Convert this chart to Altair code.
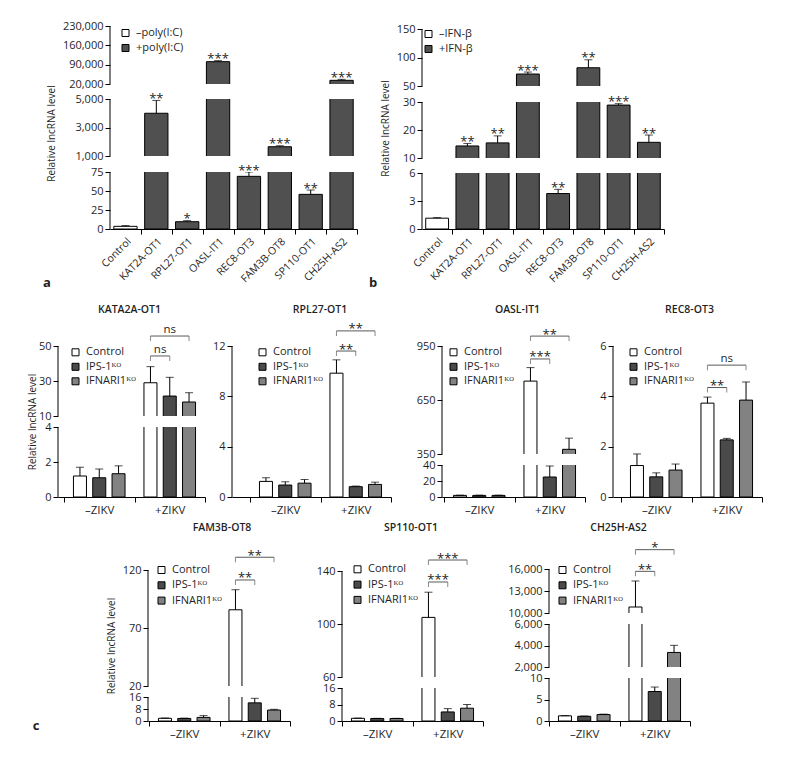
import altair as alt
import pandas as pd

FONT = "Open Sans"
INK = "#1f1f1f"
WHITE = "#ffffff"
DARK_AB = "#505050"
DARK_C = "#4a4a4a"
MID_C = "#828282"
BRACKET = "#595959"

# ---------------- panel a : poly(I:C) ----------------
A_CATEGORIES = ["Control", "KAT2A-OT1", "RPL27-OT1", "OASL-IT1", "REC8-OT3",
                "FAM3B-OT8", "SP110-OT1", "CH25H-AS2"]
A_TREATMENTS = ["–poly(I:C)", "+poly(I:C)"]
A_VALUES = [3.5, 4000, 9.6, 100800, 69.3, 1650, 45.6, 33300]
A_ERRORS = [1.0, 900, 1.4, 3700, 5.7, 70, 5.7, 3600]
A_STARS = ["", "**", "*", "***", "***", "***", "**", "***"]
A_DOMAINS = [[20000, 230000], [1000, 5000], [0, 75]]
A_TICKS = [[20000, 90000, 160000, 230000], [1000, 3000, 5000], [0, 25, 50, 75]]

# ---------------- panel b : IFN-beta ----------------
B_TREATMENTS = ["–IFN-β", "+IFN-β"]
B_VALUES = [1.16, 14.3, 15.4, 71, 3.8, 82, 28.9, 15.6]
B_ERRORS = [0.06, 0.9, 2.5, 3.5, 0.45, 14, 0.5, 2.6]
B_STARS = ["", "**", "**", "***", "**", "**", "***", "**"]
B_DOMAINS = [[50, 150], [10, 30], [0, 6]]
B_TICKS = [[50, 100, 150], [10, 20, 30], [0, 3, 6]]

# ---------------- panel c : ZIKV ----------------
C_GENES = ["KATA2A-OT1", "RPL27-OT1", "OASL-IT1", "REC8-OT3",
           "FAM3B-OT8", "SP110-OT1", "CH25H-AS2"]
C_GROUPS = ["–ZIKV", "+ZIKV"]
C_SERIES = ["Control", "IPS-1ᴷᴼ", "IFNARI1ᴷᴼ"]
# per gene: -ZIKV (Control, IPS-1KO, IFNARI1KO), +ZIKV (Control, IPS-1KO, IFNARI1KO)
C_VALUES = [
    [1.2, 1.1, 1.33, 29, 21.4, 18],
    [1.24, 0.95, 1.1, 9.84, 0.82, 1.0],
    [2, 2, 2, 755, 25, 376],
    [1.25, 0.8, 1.07, 3.73, 2.27, 3.85],
    [1.8, 1.7, 2.4, 85.7, 12.1, 7.3],
    [1.3, 1.2, 1.2, 105, 4.4, 6.2],
    [1.2, 1.1, 1.5, 10818, 6.85, 3354],
]
C_ERRORS = [
    [0.5, 0.5, 0.45, 9.2, 10.7, 5.3],
    [0.29, 0.26, 0.29, 1.06, 0.05, 0.18],
    [0.3, 0.3, 0.3, 75, 13.75, 62],
    [0.46, 0.16, 0.24, 0.24, 0.06, 0.72],
    [0.2, 0.2, 1.2, 17.3, 3.0, 0.5],
    [0.1, 0.1, 0.1, 19, 1.6, 1.8],
    [0.05, 0.05, 0.1, 3546, 1.05, 662],
]
C_BRACKET_HEIGHTS = [[44.3, 55.7], [11.6, 13.2], [878, 1005], [4.35, 5.24],
                     [111.4, 131], [131.7, 148.3], [15682, 18636]]
C_BRACKET_LABELS = [["ns", "ns"], ["**", "**"], ["***", "**"], ["**", "ns"],
                    ["**", "**"], ["***", "***"], ["**", "*"]]
C_DOMAINS = [
    [[10, 50], [0, 4]],
    [[0, 12]],
    [[350, 950], [0, 40]],
    [[0, 6]],
    [[20, 120], [0, 16]],
    [[60, 140], [0, 16]],
    [[10000, 16000], [2000, 6000], [0, 10]],
]
C_TICKS = [
    [[10, 30, 50], [0, 2, 4]],
    [[0, 4, 8, 12]],
    [[350, 650, 950], [0, 20, 40]],
    [[0, 2, 4, 6]],
    [[20, 70, 120], [0, 8, 16]],
    [[60, 100, 140], [0, 8, 16]],
    [[10000, 13000, 16000], [2000, 4000, 6000], [0, 5, 10]],
]
Y_TITLE = "Relative lncRNA level"

# ---------------- layout (page pixels) ----------------
PAGE_W, PAGE_H, MARGIN = 788, 762, 8
W, H = PAGE_W - 2 * MARGIN, PAGE_H - 2 * MARGIN
AB_X = [(110, 357), (422, 664)]
AB_SEG_PX = [[(26, 84), (99, 156), (172, 229)], [(29, 86), (102, 158), (173, 229)]]
AB_LEGEND = [(120, 33), (423, 34)]
AB_YTITLE = [(-53.5, 133), (-32, 128)]
AB_LABEL = [(47, 283), (373, 283)]
C_X = [(58, 205), (232, 391), (442, 585), (613, 762), (148, 290), (342, 483), (549, 690)]
C_SEG_PX = [[(346, 416), (427, 497)], [(346, 497)], [(346, 454), (465, 497)], [(346, 497)],
            [(570, 686), (697, 721)], [(571, 677), (688, 721)],
            [(569, 613), (624, 667), (678, 721)]]
C_STEP = 70.5
C_TITLE = [(129.5, 310), (320, 310), (517.5, 310), (689.5, 310), (222, 528), (411, 528), (618.5, 528)]
C_LEGEND = [(70, 352.3), (257, 352.3), (448, 352.3), (628, 352.3), (156, 570), (352, 569.3), (557, 570)]
C_LEGEND_PAD = [2.5, 2.5, 2.5, 2.5, 3.3, 3.3, 3.3]
C_YTITLE = [(-20.5, 421.5), None, None, None, (-32, 645.5), None, None]
C_LABEL = (36, 726)
OFF_PI, OFF_PO = 0.326, 0.49
HALF_OFF_STEP = (C_STEP / (3 - OFF_PI + 2 * OFF_PO)) / 2


def u(v):
    return v - MARGIN


def broken_scale(domains, seg_px):
    """Piecewise-linear y scale; segments listed top -> bottom with (top_px, bottom_px)."""
    dom, rng = [], []
    for (lo, hi), (top, bot) in zip(reversed(domains), reversed(seg_px)):
        dom += [lo, hi]
        rng += [u(bot), u(top)]
    segs = list(reversed(domains))
    seg_df = pd.DataFrame({"lo": [s[0] for s in segs], "hi": [s[1] for s in segs]})
    gap_df = pd.DataFrame({"lo": [segs[i][1] for i in range(len(segs) - 1)],
                           "hi": [segs[i + 1][0] for i in range(len(segs) - 1)]})
    return alt.Scale(domain=dom, range=rng, nice=False, zero=False), seg_df, gap_df


def y_axis(ticks, x0, title_xy=None):
    vals = sorted({t for tt in ticks for t in tt})
    kw = dict(values=vals, format=",d", tickSize=5, labelPadding=2, labelFontSize=11,
              grid=False, labelOverlap=False, labelFlush=False, domain=False, zindex=1,
              tickColor="black", orient="left", offset=-u(x0))
    if title_xy:
        kw.update(title=Y_TITLE, titleX=title_xy[0], titleY=u(title_xy[1]), titleAngle=270,
                  titleBaseline="bottom", titleFontSize=10, titleFontWeight="normal",
                  titleAlign="center")
    else:
        kw["title"] = None
    return alt.Axis(**kw)


def make_legend(sx, cy, rowpad):
    return alt.Legend(orient="none", legendX=u(sx), legendY=u(cy) - 5.5, title=None,
                      symbolType="square", symbolSize=49, symbolStrokeColor="black",
                      symbolStrokeWidth=1, labelFontSize=11, labelFont=FONT, labelColor=INK,
                      rowPadding=rowpad, labelOffset=5, padding=0, offset=0)


def text_layer(text, cx, cy, size=13, weight="bold"):
    return alt.Chart(pd.DataFrame({"t": [text]})).mark_text(
        fontSize=size, fontWeight=weight, align="center", baseline="middle", color=INK
    ).encode(x=alt.value(u(cx)), y=alt.value(u(cy)), text="t:N")


def core_layers(df, xenc, off, yscale, yaxis, fill, seg_df, gap_df, x0, x1):
    def Y(field):
        return alt.Y(field, type="quantitative", scale=yscale, axis=yaxis)
    base = alt.Chart(df)
    bars = base.mark_bar(stroke="black", strokeWidth=1).encode(
        x=xenc, y=Y("value"), y2="base:Q", fill=fill, **off)
    errs = base.mark_rule(color="black", strokeWidth=1).encode(
        x=xenc, y=Y("value"), y2="hi:Q", **off)
    caps = base.mark_tick(orient="horizontal", size=8, thickness=1, color="black").encode(
        x=xenc, y=Y("hi"), **off)
    layers = [bars, errs, caps]
    if len(gap_df):
        layers.append(alt.Chart(gap_df).mark_rect(fill=WHITE).encode(
            x=alt.value(u(x0) - 2), x2=alt.value(u(x1) + 2), y=Y("lo"), y2="hi:Q"))
    layers.append(alt.Chart(seg_df).mark_rule(color="black", strokeWidth=1).encode(
        x=alt.value(u(x0)), y=Y("lo"), y2="hi:Q"))
    return layers


def ab_panel(p, values, errors, stars, treatments, domains, ticks):
    rows = []
    for i, (c, v, e, s) in enumerate(zip(A_CATEGORIES, values, errors, stars)):
        rows.append(dict(cat=c, series=treatments[0] if i == 0 else treatments[1],
                         value=v, base=0, hi=v + e, stars=s))
    df = pd.DataFrame(rows)
    x0, x1 = AB_X[p]
    seg_px = AB_SEG_PX[p]
    yscale, seg_df, gap_df = broken_scale(domains, seg_px)
    shift = (x1 - x0) / len(A_CATEGORIES) * 0.245 / 2
    xaxis = alt.Axis(title=None, labelAngle=315, labelAlign="right", labelBaseline="top",
                     labelFontSize=10.5, bandPosition=1, tickOffset=shift,
                     labelOffset=-shift, tickSize=5, labelPadding=2, zindex=1,
                     domainColor="black", tickColor="black", orient="bottom",
                     offset=-(H - u(seg_px[-1][1])))
    xenc = alt.X("cat:N", scale=alt.Scale(domain=A_CATEGORIES, paddingInner=0.245,
                                          paddingOuter=0.1225, range=[u(x0), u(x1)]),
                 axis=xaxis, title=None)
    yaxis = y_axis(ticks, x0, AB_YTITLE[p])
    fill = alt.Fill("series:N", scale=alt.Scale(domain=treatments, range=[WHITE, DARK_AB]),
                    legend=make_legend(AB_LEGEND[p][0], AB_LEGEND[p][1], 3))
    layers = core_layers(df, xenc, {}, yscale, yaxis, fill, seg_df, gap_df, x0, x1)
    layers.append(
        alt.Chart(df).transform_filter("datum.stars != ''")
        .mark_text(fontSize=13, baseline="alphabetic", dy=2.5, color=INK)
        .encode(x=xenc, y=alt.Y("hi", type="quantitative", scale=yscale, axis=yaxis),
                text="stars:N"))
    layers.append(text_layer("ab"[p], *AB_LABEL[p]))
    return alt.layer(*layers)


def c_panel(i):
    rows = []
    for j, (v, e) in enumerate(zip(C_VALUES[i], C_ERRORS[i])):
        rows.append(dict(group=C_GROUPS[j // 3], series=C_SERIES[j % 3], value=v, base=0, hi=v + e))
    df = pd.DataFrame(rows)
    pts, labs = [], []
    for j, (h, lab) in enumerate(zip(C_BRACKET_HEIGHTS[i], C_BRACKET_LABELS[i])):
        for s in (C_SERIES[0], C_SERIES[j + 1]):
            pts.append(dict(bid=j, group=C_GROUPS[1], series=s, h=h))
        labs.append(dict(group=C_GROUPS[1], anchor=C_SERIES[j], h=h, label=lab,
                         half=int(j == 0), ns=int(lab == "ns")))
    dfp, dfl = pd.DataFrame(pts), pd.DataFrame(labs)

    x0, x1 = C_X[i]
    seg_px = C_SEG_PX[i]
    po = max(0.0, ((x1 - x0) / C_STEP - 2) / 2)
    yscale, seg_df, gap_df = broken_scale(C_DOMAINS[i], seg_px)
    offscale = alt.Scale(domain=C_SERIES, paddingInner=OFF_PI, paddingOuter=OFF_PO)
    xaxis = alt.Axis(title=None, labelAngle=0, tickBand="extent", labelFontSize=11.5, zindex=1,
                     tickSize=5, labelPadding=2, domainColor="black", tickColor="black",
                     orient="bottom", offset=-(H - u(seg_px[-1][1])))
    xenc = alt.X("group:N", scale=alt.Scale(domain=C_GROUPS, paddingInner=0, paddingOuter=po,
                                            align=1, range=[u(x0), u(x1)]),
                 axis=xaxis, title=None)
    off = {"xOffset": alt.XOffset("series:N", scale=offscale)}
    yaxis = y_axis(C_TICKS[i], x0, C_YTITLE[i])
    fill = alt.Fill("series:N",
                    scale=alt.Scale(domain=C_SERIES, range=[WHITE, DARK_C, MID_C]),
                    legend=make_legend(C_LEGEND[i][0], C_LEGEND[i][1], C_LEGEND_PAD[i]))
    layers = core_layers(df, xenc, off, yscale, yaxis, fill, seg_df, gap_df, x0, x1)
    Yh = alt.Y("h", type="quantitative", scale=yscale, axis=yaxis)
    layers.append(alt.Chart(dfp).mark_line(color=BRACKET, strokeWidth=1).encode(
        x=xenc, y=Yh, detail="bid:N", **off))
    layers.append(alt.Chart(dfp).mark_tick(orient="vertical", size=5, thickness=1,
                                           color=BRACKET, yOffset=2.5).encode(x=xenc, y=Yh, **off))
    for half in (0, 1):
        for ns in (0, 1):
            layers.append(
                alt.Chart(dfl).transform_filter(f"datum.half == {half} && datum.ns == {ns}")
                .mark_text(fontSize=11.5 if ns else 13, baseline="alphabetic",
                           dx=HALF_OFF_STEP if half else 0, dy=-3 if ns else 2.5, color=INK)
                .encode(x=xenc, y=Yh, text="label:N",
                        xOffset=alt.XOffset("anchor:N", scale=offscale)))
    layers.append(text_layer(C_GENES[i], *C_TITLE[i], size=10.5, weight=600))
    if i == 4:
        layers.append(text_layer("c", *C_LABEL))
    return alt.layer(*layers)


panels = [ab_panel(0, A_VALUES, A_ERRORS, A_STARS, A_TREATMENTS, A_DOMAINS, A_TICKS),
          ab_panel(1, B_VALUES, B_ERRORS, B_STARS, B_TREATMENTS, B_DOMAINS, B_TICKS)]
panels += [c_panel(i) for i in range(7)]

chart = alt.layer(*panels).resolve_scale(
    x="independent", y="independent", fill="independent", xOffset="independent"
).resolve_axis(x="independent", y="independent").resolve_legend(fill="independent").properties(
    width=W, height=H, padding=0, autosize=alt.AutoSizeParams(type="none")
).configure_view(stroke=None).configure_axis(
    labelFont=FONT, titleFont=FONT, labelColor=INK, titleColor=INK
).configure_text(font=FONT).configure_legend(labelFont=FONT, labelColor=INK)

chart.save("out.html", embed_options={"renderer": "svg", "actions": False})
